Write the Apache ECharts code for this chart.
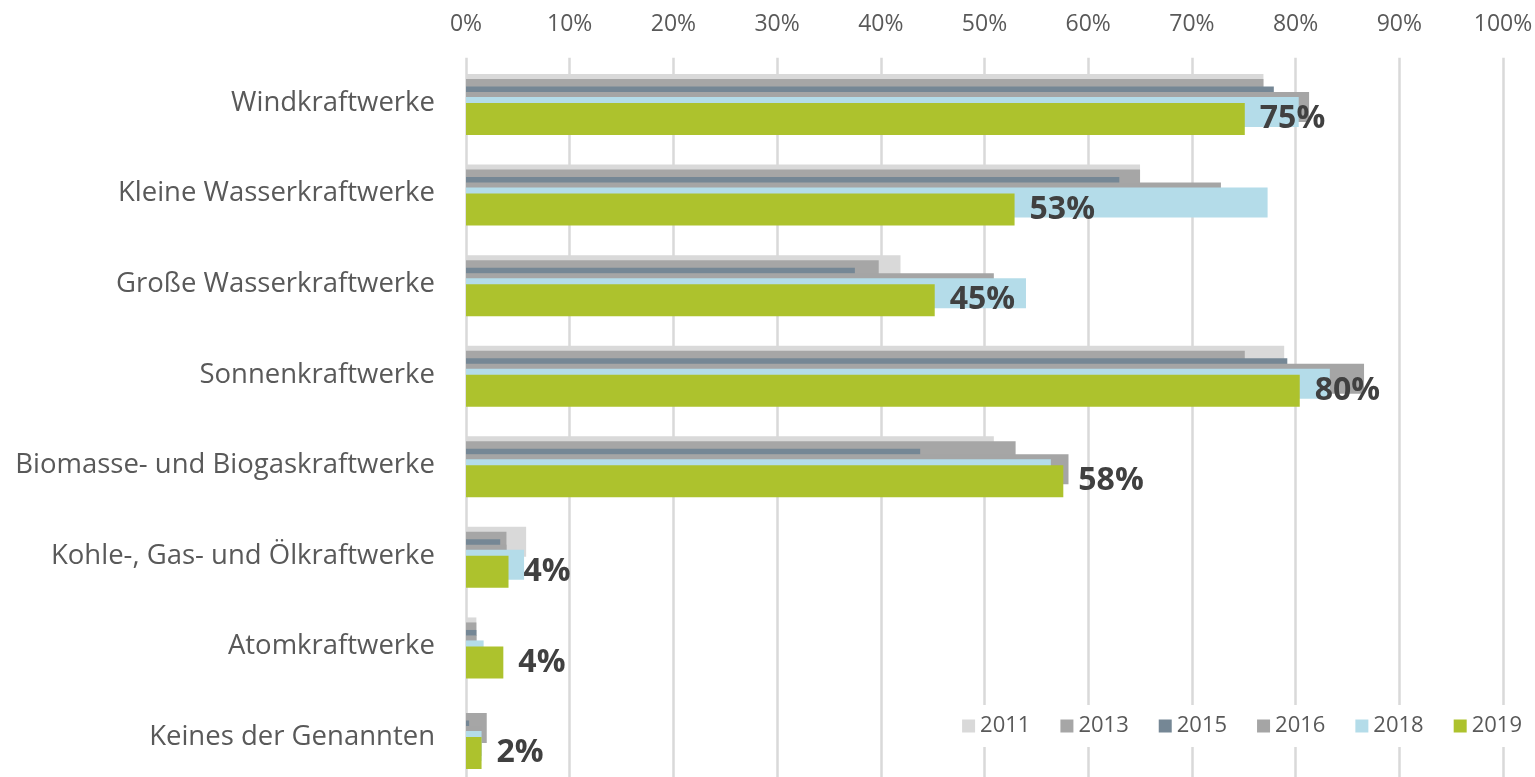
<!DOCTYPE html>
<html style="height: 100%">
<head>
    <meta charset="utf-8">
</head>
<body style="height: 100%; margin: 0; background: #fff">
<div id="container" style="height: 100%"></div>
<script type="text/javascript" src="https://cdn.jsdelivr.net/npm/echarts@6/dist/echarts.min.js"></script>
<script type="text/javascript">
var categories = ['Windkraftwerke', 'Kleine Wasserkraftwerke', 'Große Wasserkraftwerke', 'Sonnenkraftwerke',
    'Biomasse- und Biogaskraftwerke', 'Kohle-, Gas- und Ölkraftwerke', 'Atomkraftwerke', 'Keines der Genannten'];
var years = ['2011', '2013', '2015', '2016', '2018', '2019'];
var xTickLabels = ['0%', '10%', '20%', '30%', '40%', '50%', '60%', '70%', '80%', '90%', '100%'];

// Anteil in Prozent
var v2011 = [76.9, 65.0, 41.9, 78.9, 50.9, 5.8, 1.0, 0];
var v2013 = [76.9, 65.0, 39.8, 75.1, 53.0, 3.9, 1.0, 2.0];
var v2015 = [77.9, 63.0, 37.5, 79.2, 43.8, 3.3, 1.0, 0.3];
var v2016 = [81.3, 72.8, 50.9, 86.6, 58.1, 3.9, 1.0, 1.5];
var v2018 = [80.3, 77.3, 54.0, 83.3, 56.4, 5.6, 1.7, 1.5];
var v2019 = [75.1, 52.9, 45.2, 80.4, 57.6, 4.1, 3.6, 1.5];
var values = [v2011, v2013, v2015, v2016, v2018, v2019];

// look of each year's bar: colour, thickness, shift from the category centre
var barColors = ['#d9d9d9', '#a6a6a6', '#758795', '#a5a5a5', '#b4dce9', '#adc22d'];
var barThick = [30, 30, 6, 30, 30, 32];
var barShift = [-14, -9, -13.5, 4, 9, 16];

var font = "'Open Sans', 'Noto Sans', sans-serif";
var gridTop = 57.7, gridHeight = 724.6;

var dom = document.getElementById('container');
var myChart = echarts.init(dom);

// grid 0 only carries the visible axes, each year gets its own (shifted) grid
var grids = [{left: 466, right: 32, top: gridTop, height: gridHeight, containLabel: false, outerBoundsMode: 'none'}];
var xAxes = [{
    gridIndex: 0,
    type: 'value',
    position: 'top',
    min: 0,
    max: 100,
    interval: 10,
    axisLine: {show: false},
    axisTick: {show: false},
    axisLabel: {
        margin: 22,
        fontSize: 23,
        fontFamily: font,
        color: '#595959',
        formatter: function (v) { return xTickLabels[Math.round(v / 10)]; }
    },
    splitLine: {lineStyle: {color: '#d9d9d9', width: 2.5}}
}];
var yAxes = [{
    gridIndex: 0,
    type: 'category',
    inverse: true,
    data: categories,
    axisLine: {show: false},
    axisTick: {show: false},
    axisLabel: {margin: 31, fontSize: 27.5, fontFamily: font, color: '#595959'}
}];
var series = [];

for (var i = 0; i < years.length; i++) {
    grids.push({left: 466, right: 32, top: gridTop + barShift[i], height: gridHeight, containLabel: false, outerBoundsMode: 'none'});
    xAxes.push({gridIndex: i + 1, type: 'value', min: 0, max: 100, show: false});
    yAxes.push({gridIndex: i + 1, type: 'category', inverse: true, data: categories, show: false});
    var s = {
        name: years[i],
        type: 'bar',
        xAxisIndex: i + 1,
        yAxisIndex: i + 1,
        barWidth: barThick[i],
        itemStyle: {color: barColors[i]},
        data: values[i]
    };
    if (i === years.length - 1) {
        s.label = {
            show: true,
            position: 'right',
            distance: 15,
            fontSize: 32,
            fontWeight: 'bold',
            fontFamily: font,
            color: '#404040',
            formatter: function (p) { return Math.round(p.value) + '%'; }
        };
    }
    series.push(s);
}

var option = {
    animation: false,
    backgroundColor: '#fff',
    legend: {
        data: years,
        icon: 'rect',
        right: 7,
        top: 705,
        itemWidth: 13,
        itemHeight: 13,
        itemGap: 30,
        padding: [10, 6],
        backgroundColor: '#fff',
        textStyle: {fontSize: 22, fontFamily: font, color: '#595959'}
    },
    grid: grids,
    xAxis: xAxes,
    yAxis: yAxes,
    series: series
};

myChart.setOption(option);
</script>
</body>
</html>
